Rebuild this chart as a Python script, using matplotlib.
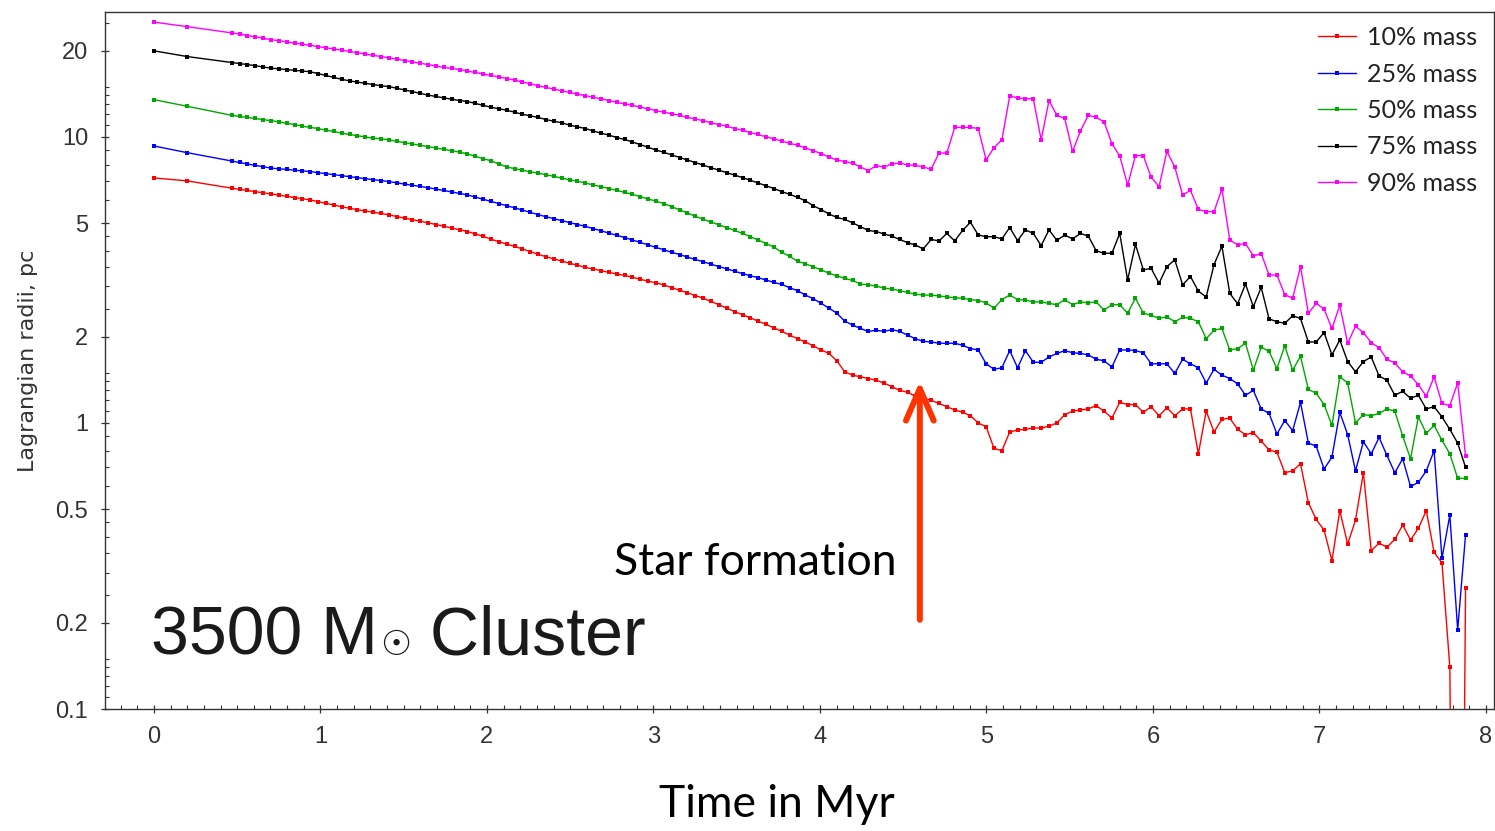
import matplotlib.pyplot as plt
import numpy as np
from matplotlib.ticker import FixedLocator, MultipleLocator, NullFormatter


OUT_PNG = "out.png"

# Output times (Myr): two early dumps, then snapshots at a fixed cadence
EARLY_TIMES = [0.0, 0.2]
SNAP_START = 0.467
SNAP_STEP = 0.0472
N_SNAPS = 158

MASS_LABELS = ["10% mass", "25% mass", "50% mass", "75% mass", "90% mass"]
LINE_COLORS = ["#ff0000", "#0000ff", "#00a800", "#000000", "#ff00ff"]

# Lagrangian radii in pc, one value per output time
RADII_10 = [
    7.19, 7.02,
    6.62, 6.56, 6.5, 6.44, 6.38, 6.32, 6.26, 6.2, 6.14, 6.08,
    6.02, 5.94, 5.86, 5.78, 5.7, 5.63, 5.57, 5.51, 5.45, 5.4,
    5.34, 5.27, 5.2, 5.14, 5.07, 5.01, 4.94, 4.87, 4.8, 4.74,
    4.67, 4.58, 4.49, 4.39, 4.3, 4.22, 4.14, 4.06, 3.97, 3.89,
    3.81, 3.75, 3.68, 3.62, 3.56, 3.5, 3.45, 3.41, 3.36, 3.32,
    3.28, 3.23, 3.18, 3.13, 3.09, 3.04, 2.97, 2.91, 2.85, 2.79,
    2.73, 2.66, 2.59, 2.52, 2.45, 2.39, 2.33, 2.27, 2.21, 2.15,
    2.09, 2.03, 1.97, 1.92, 1.86, 1.8, 1.75, 1.65, 1.51, 1.47,
    1.45, 1.43, 1.41, 1.38, 1.34, 1.3, 1.28, 1.24, 1.22, 1.2,
    1.17, 1.14, 1.11, 1.09, 1.06, 1.0, 0.97, 0.815, 0.8, 0.93,
    0.945, 0.95, 0.96, 0.96, 0.975, 1.0, 1.07, 1.1, 1.11, 1.12,
    1.15, 1.1, 1.04, 1.18, 1.16, 1.16, 1.09, 1.14, 1.06, 1.13,
    1.06, 1.12, 1.12, 0.78, 1.1, 0.93, 1.03, 1.04, 0.95, 0.91,
    0.925, 0.865, 0.805, 0.79, 0.67, 0.68, 0.72, 0.526, 0.46, 0.422,
    0.33, 0.494, 0.377, 0.458, 0.67, 0.358, 0.38, 0.368, 0.392, 0.44,
    0.39, 0.428, 0.494, 0.353, 0.324, 0.14, 0.0001, 0.265,
]

RADII_25 = [
    9.3, 8.81,
    8.24, 8.15, 8.05, 7.95, 7.87, 7.78, 7.74, 7.7, 7.65, 7.61,
    7.57, 7.5, 7.44, 7.38, 7.32, 7.26, 7.2, 7.15, 7.09, 7.04,
    6.98, 6.91, 6.84, 6.78, 6.71, 6.65, 6.57, 6.5, 6.42, 6.35,
    6.27, 6.16, 6.05, 5.95, 5.85, 5.75, 5.65, 5.55, 5.45, 5.35,
    5.26, 5.18, 5.1, 5.02, 4.94, 4.87, 4.78, 4.7, 4.61, 4.53,
    4.45, 4.36, 4.28, 4.19, 4.11, 4.03, 3.95, 3.88, 3.8, 3.73,
    3.66, 3.59, 3.52, 3.46, 3.39, 3.33, 3.27, 3.22, 3.16, 3.1,
    3.05, 2.97, 2.9, 2.8, 2.72, 2.62, 2.52, 2.42, 2.27, 2.2,
    2.14, 2.09, 2.11, 2.09, 2.12, 2.09, 2.03, 1.97, 1.93, 1.92,
    1.9, 1.9, 1.9, 1.87, 1.82, 1.8, 1.61, 1.54, 1.56, 1.79,
    1.56, 1.79, 1.63, 1.63, 1.7, 1.75, 1.79, 1.76, 1.75, 1.73,
    1.67, 1.65, 1.57, 1.8, 1.8, 1.79, 1.76, 1.61, 1.61, 1.61,
    1.49, 1.67, 1.61, 1.56, 1.38, 1.54, 1.47, 1.43, 1.37, 1.25,
    1.3, 1.12, 1.08, 0.915, 1.02, 0.94, 1.18, 0.85, 0.83, 0.69,
    0.76, 1.09, 0.91, 0.68, 0.86, 0.78, 0.89, 0.77, 0.67, 0.75,
    0.6, 0.62, 0.68, 0.8, 0.336, 0.476, 0.189, 0.406,
]

RADII_50 = [
    13.5, 12.8,
    11.9, 11.8, 11.7, 11.6, 11.5, 11.4, 11.3, 11.15, 11.05, 10.9,
    10.8, 10.7, 10.55, 10.45, 10.3, 10.2, 10.1, 10.0, 9.9, 9.85,
    9.77, 9.65, 9.55, 9.45, 9.35, 9.25, 9.15, 9.05, 8.95, 8.85,
    8.72, 8.55, 8.4, 8.25, 8.05, 7.85, 7.75, 7.65, 7.55, 7.47,
    7.38, 7.28, 7.18, 7.08, 7.0, 6.9, 6.8, 6.7, 6.6, 6.5,
    6.4, 6.3, 6.18, 6.07, 5.96, 5.85, 5.7, 5.56, 5.42, 5.28,
    5.15, 5.04, 4.93, 4.82, 4.71, 4.6, 4.48, 4.36, 4.24, 4.12,
    3.95, 3.82, 3.68, 3.6, 3.52, 3.43, 3.34, 3.27, 3.2, 3.15,
    3.06, 3.04, 3.01, 2.96, 2.94, 2.9, 2.86, 2.82, 2.8, 2.8,
    2.78, 2.76, 2.74, 2.73, 2.7, 2.68, 2.63, 2.52, 2.7, 2.8,
    2.7, 2.69, 2.65, 2.65, 2.62, 2.59, 2.7, 2.59, 2.65, 2.63,
    2.65, 2.48, 2.59, 2.59, 2.42, 2.73, 2.42, 2.38, 2.32, 2.35,
    2.26, 2.34, 2.32, 2.26, 1.97, 2.11, 2.14, 1.8, 1.82, 1.9,
    1.53, 1.84, 1.78, 1.55, 1.86, 1.53, 1.71, 1.31, 1.27, 1.16,
    0.98, 1.45, 1.38, 1.0, 1.07, 1.06, 1.08, 1.12, 1.1, 0.9,
    0.75, 1.05, 0.92, 0.98, 0.87, 0.78, 0.64, 0.64,
]

RADII_75 = [
    20.0, 19.1,
    18.2, 18.05, 17.9, 17.75, 17.55, 17.4, 17.3, 17.2, 17.1, 17.0,
    16.9, 16.65, 16.4, 16.15, 15.9, 15.7, 15.55, 15.4, 15.25, 15.1,
    15.0, 14.8, 14.6, 14.4, 14.2, 14.0, 13.85, 13.7, 13.55, 13.4,
    13.3, 13.1, 12.9, 12.7, 12.55, 12.4, 12.2, 12.0, 11.85, 11.7,
    11.5, 11.35, 11.2, 11.0, 10.85, 10.7, 10.5, 10.3, 10.15, 9.95,
    9.8, 9.6, 9.4, 9.2, 9.0, 8.83, 8.65, 8.47, 8.3, 8.13,
    7.96, 7.8, 7.65, 7.5, 7.35, 7.21, 7.05, 6.9, 6.75, 6.6,
    6.44, 6.3, 6.15, 5.98, 5.75, 5.57, 5.38, 5.23, 5.15, 5.01,
    4.86, 4.71, 4.67, 4.58, 4.5, 4.38, 4.27, 4.19, 4.06, 4.38,
    4.33, 4.6, 4.33, 4.71, 5.03, 4.54, 4.48, 4.48, 4.4, 4.82,
    4.34, 4.73, 4.6, 4.17, 4.73, 4.35, 4.54, 4.4, 4.6, 4.5,
    4.0, 3.92, 3.92, 4.6, 3.16, 4.21, 3.43, 3.47, 3.08, 3.52,
    3.72, 3.04, 3.25, 2.89, 2.76, 3.58, 4.15, 2.84, 2.61, 3.06,
    2.55, 2.98, 2.31, 2.26, 2.23, 2.37, 2.32, 1.92, 1.92, 2.07,
    1.73, 1.95, 1.64, 1.51, 1.64, 1.7, 1.46, 1.41, 1.25, 1.29,
    1.22, 1.25, 1.12, 1.14, 1.05, 0.95, 0.85, 0.70,
]

RADII_90 = [
    25.2, 24.3,
    23.1, 22.9, 22.6, 22.4, 22.1, 21.9, 21.7, 21.5, 21.3, 21.1,
    20.9, 20.7, 20.5, 20.3, 20.1, 19.9, 19.7, 19.5, 19.3, 19.1,
    18.9, 18.7, 18.5, 18.3, 18.1, 17.9, 17.7, 17.5, 17.35, 17.2,
    17.0, 16.8, 16.6, 16.4, 16.2, 16.0, 15.8, 15.55, 15.35, 15.1,
    14.9, 14.7, 14.5, 14.3, 14.1, 13.95, 13.75, 13.6, 13.4, 13.2,
    13.05, 12.9, 12.7, 12.55, 12.35, 12.2, 12.05, 11.9, 11.7, 11.55,
    11.4, 11.2, 11.05, 10.9, 10.7, 10.55, 10.35, 10.2, 10.0, 9.85,
    9.66, 9.5, 9.35, 9.15, 8.95, 8.75, 8.5, 8.31, 8.2, 8.1,
    7.85, 7.63, 7.93, 7.85, 8.05, 8.1, 7.98, 7.95, 7.85, 7.71,
    8.78, 8.78, 10.8, 10.8, 10.8, 10.7, 8.31, 9.18, 9.77, 13.9,
    13.7, 13.6, 13.6, 9.77, 13.4, 11.9, 11.6, 8.9, 10.5, 11.9,
    11.7, 11.3, 9.47, 8.58, 6.79, 8.6, 8.6, 7.23, 6.7, 8.9,
    7.85, 6.27, 6.5, 5.58, 5.48, 5.48, 6.58, 4.36, 4.2, 4.24,
    3.84, 3.91, 3.29, 3.29, 2.81, 2.73, 3.52, 2.42, 2.62, 2.5,
    2.14, 2.58, 1.9, 2.18, 2.07, 1.91, 1.83, 1.67, 1.62, 1.51,
    1.46, 1.36, 1.24, 1.45, 1.17, 1.15, 1.38, 0.767,
]

X_TICKS = [0, 1, 2, 3, 4, 5, 6, 7, 8]
Y_TICKS = [0.1, 0.2, 0.5, 1, 2, 5, 10, 20]
Y_TICK_LABELS = ["0.1", "0.2", "0.5", "1", "2", "5", "10", "20"]
Y_MINOR_MANTISSAS = [1.1, 1.2, 1.3, 1.4, 1.5, 2.5, 3, 3.5, 4, 4.5, 6, 7, 8, 9]

X_RANGE = (-0.294, 8.048)
Y_RANGE = (0.1, 27.4)

AXIS_COLOR = "#333333"
ARROW_COLOR = "#ff3300"
TEXT_DARK = "#1a1a1a"
SLIDE_FONT = ["Lato", "DejaVu Sans"]
TITLE_FONT = ["Liberation Sans", "DejaVu Sans"]


def build_times():
    snaps = SNAP_START + SNAP_STEP * np.arange(N_SNAPS)
    return np.concatenate([EARLY_TIMES, snaps])


def style_axes(ax):
    ax.set_yscale("log")
    ax.set_xlim(*X_RANGE)
    ax.set_ylim(*Y_RANGE)

    ax.xaxis.set_major_locator(FixedLocator(X_TICKS))
    ax.xaxis.set_minor_locator(MultipleLocator(0.1))
    ax.set_xticklabels([str(t) for t in X_TICKS])

    minor = [m * 10.0 ** d for d in (-1, 0, 1) for m in Y_MINOR_MANTISSAS]
    ax.yaxis.set_major_locator(FixedLocator(Y_TICKS))
    ax.yaxis.set_minor_locator(FixedLocator(minor))
    ax.yaxis.set_minor_formatter(NullFormatter())
    ax.set_yticklabels(Y_TICK_LABELS)

    ax.tick_params(which="major", direction="inout", length=6, width=0.9,
                   color=AXIS_COLOR, labelsize=17, labelcolor=AXIS_COLOR)
    ax.tick_params(which="minor", direction="in", length=3, width=0.8,
                   color=AXIS_COLOR)
    ax.tick_params(axis="x", which="major", pad=9)
    ax.tick_params(axis="y", which="major", pad=9)

    for spine in ax.spines.values():
        spine.set_color(AXIS_COLOR)
        spine.set_linewidth(1.0)

    ax.set_ylabel("Lagrangian radii, pc", fontsize=16, color=AXIS_COLOR,
                  family=["DejaVu Sans"])
    ax.yaxis.set_label_coords(-0.048, 0.5)
    ax.set_xlabel("Time in Myr", fontsize=32, family=SLIDE_FONT, color="black")
    ax.xaxis.set_label_coords(0.4838, -0.108)


def add_annotations(ax):
    ax.annotate(
        "", xy=(4.6, 1.40), xytext=(4.6, 0.205),
        arrowprops=dict(arrowstyle="->,head_length=2.3,head_width=1.0",
                        mutation_scale=10, lw=4.3, color=ARROW_COLOR,
                        shrinkA=0, shrinkB=0, capstyle="round",
                        joinstyle="round"),
    )
    ax.text(4.46, 0.294, "Star formation", ha="right", va="baseline",
            fontsize=32, family=SLIDE_FONT)

    # cluster mass label, built from three pieces so the sun sign can be small
    head = ax.text(-0.02, 0.1545, "3500 M", fontsize=49,
                   family=TITLE_FONT, va="baseline", color=TEXT_DARK)
    sun = ax.annotate("\u2609", xy=(1, 0), xycoords=head, xytext=(2, 5),
                      textcoords="offset points", fontsize=25,
                      fontweight="bold", family=["DejaVu Sans"],
                      va="bottom", color=TEXT_DARK)
    ax.annotate(" Cluster", xy=(1, 0), xycoords=(sun, head), xytext=(0, 0),
                textcoords="offset points", fontsize=49,
                family=TITLE_FONT, va="bottom", color=TEXT_DARK)


def main():
    plt.rcParams["font.family"] = ["Liberation Sans", "DejaVu Sans"]

    times = build_times()
    series = [RADII_10, RADII_25, RADII_50, RADII_75, RADII_90]

    fig = plt.figure(figsize=(14.95, 8.31), dpi=100)
    ax = fig.add_axes([0.0702, 0.1468, 0.9291, 0.8391])

    for label, radii, color in zip(MASS_LABELS, series, LINE_COLORS):
        ax.plot(times, radii, color=color, lw=1.0, marker="s", ms=3.0,
                mew=0, label=label)

    style_axes(ax)
    add_annotations(ax)

    ax.legend(loc="upper left", bbox_to_anchor=(1318 / 1495, 1 - 26 / 831),
              bbox_transform=fig.transFigure, frameon=False, borderpad=0,
              borderaxespad=0, handlelength=1.5, handletextpad=0.45,
              labelspacing=0.54, prop={"family": SLIDE_FONT, "size": 18},
              labelcolor="#222222")

    fig.savefig(OUT_PNG, dpi=100)
    plt.close(fig)


if __name__ == "__main__":
    main()
